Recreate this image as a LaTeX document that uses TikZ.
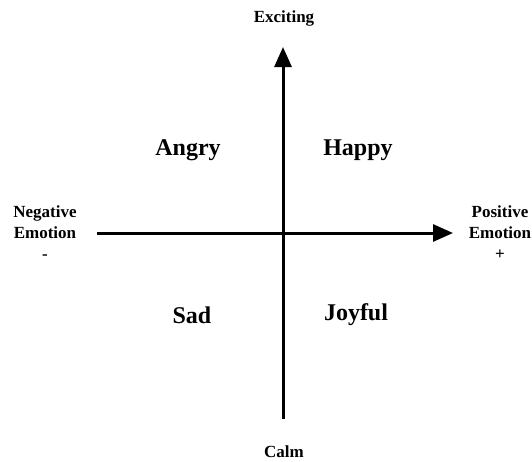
\documentclass[tikz,border=0pt]{standalone}
\usepackage{fontspec}
\setmainfont{Liberation Serif}
\usetikzlibrary{arrows.meta}
\tikzset{
  axis/.style={line width=3pt,-{Triangle[length=20pt,width=17pt]}},
  axislabel/.style={font=\bfseries\fontsize{17}{21}\selectfont,align=center,inner sep=0pt},
  quadlabel/.style={font=\bfseries\fontsize{24}{28}\selectfont,anchor=base,inner sep=0pt}
}
\begin{document}
\begin{tikzpicture}[x=1pt,y=-1pt]
\useasboundingbox (0,0) rectangle (532,461);
% axes
\coordinate (west) at (97,233);
\coordinate (east) at (453,233);
\coordinate (south) at (283,419);
\coordinate (north) at (283,47);
\draw[axis] (west) -- (east);
\draw[axis] (south) -- (north);
% axis ends
\node[axislabel,anchor=base] (exciting) at (284,22) {Exciting};
\node[axislabel,anchor=base] (calm) at (284,457) {Calm};
\node[axislabel,anchor=base] (negative) at (45,259) {Negative\\Emotion\\-};
\node[axislabel,anchor=base] (positive) at (500,259) {Positive\\Emotion\\+};
% quadrants
\node[quadlabel] (angry) at (188,155) {Angry};
\node[quadlabel] (happy) at (358,155) {Happy};
\node[quadlabel] (sad) at (192,323) {Sad};
\node[quadlabel] (joyful) at (356,320) {Joyful};
\end{tikzpicture}
\end{document}
